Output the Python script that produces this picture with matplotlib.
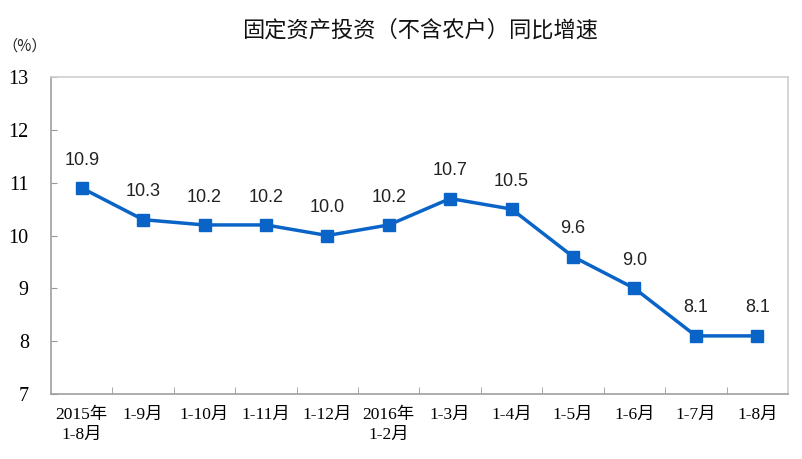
import matplotlib
matplotlib.use("Agg")
import matplotlib.pyplot as plt

# 固定资产投资（不含农户）同比增速
periods = ["2015年\n1-8月", "1-9月", "1-10月", "1-11月", "1-12月", "2016年\n1-2月",
           "1-3月", "1-4月", "1-5月", "1-6月", "1-7月", "1-8月"]
growth = [10.9, 10.3, 10.2, 10.2, 10.0, 10.2, 10.7, 10.5, 9.6, 9.0, 8.1, 8.1]
yticks = [7, 8, 9, 10, 11, 12, 13]

plt.rcParams["font.family"] = ["Noto Sans CJK SC", "DejaVu Sans"]
serif = ["Liberation Serif", "Noto Sans CJK SC"]
sans = ["Liberation Sans", "Noto Sans CJK SC"]

fig = plt.figure(figsize=(8.03, 4.59), dpi=100)
ax = fig.add_axes([0.0635, 0.1416, 0.9178, 0.6906])

x = list(range(len(periods)))
blue = "#0a64c8"
ax.plot(x, growth, color=blue, linewidth=2.5, marker="s", markersize=8.5,
        markerfacecolor=blue, markeredgecolor=blue)

for xi, v in zip(x, growth):
    ax.annotate(f"{v:.1f}", (xi, v), xytext=(0, 14), textcoords="offset points",
                ha="center", va="bottom", fontsize=13, family=sans, color="#222222")

ax.set_xlim(-0.5, len(periods) - 0.5)
ax.set_ylim(7, 13)
ax.set_yticks(yticks)
ax.set_yticklabels([str(t) for t in yticks], family=serif, fontsize=14.5)
ax.set_xticks(x)
ax.set_xticklabels(periods, family=serif, fontsize=12.5, linespacing=1.35)
ax.set_xticks([i + 0.5 for i in x[:-1]], minor=True)
ax.tick_params(axis="x", which="major", length=0, pad=9)
ax.tick_params(axis="x", which="minor", direction="in", length=5, color="#999999")
ax.tick_params(axis="y", direction="in", length=4, color="#999999", pad=16)

for side in ["top", "right"]:
    ax.spines[side].set_color("#d0d0d0")
    ax.spines[side].set_linewidth(1.2)
for side in ["left", "bottom"]:
    ax.spines[side].set_color("#a0a0a0")
    ax.spines[side].set_linewidth(1.2)

fig.text(0.523, 0.935, "固定资产投资（不含农户）同比增速", ha="center", va="center",
         fontsize=16, color="#111111")
fig.text(0.031, 0.9, "（%）", ha="center", va="center", fontsize=11, color="#222222")

fig.savefig("out.png", dpi=100)
